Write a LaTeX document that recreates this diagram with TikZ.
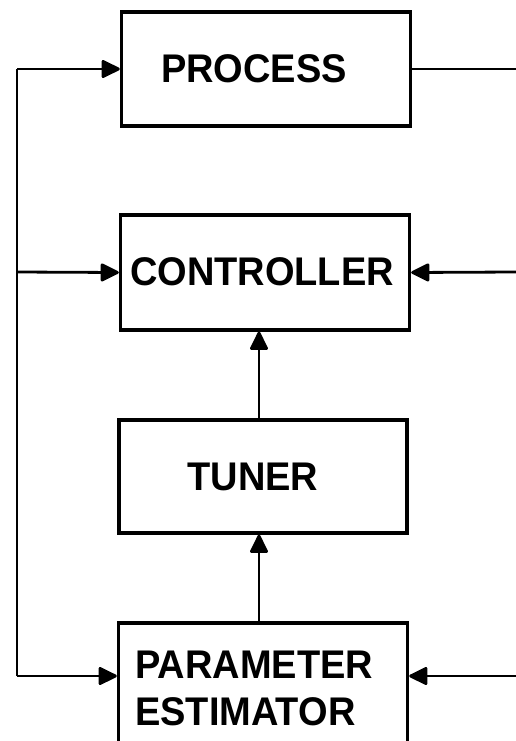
\documentclass[tikz,border=0pt]{standalone}
\usepackage{fontspec}
\setmainfont{Liberation Sans}[FakeStretch=0.95]
\usetikzlibrary{arrows.meta}
\tikzset{
  blk/.style={draw, line width=3.4pt, inner sep=0pt},
  lbl/.style={font=\bfseries\fontsize{40}{47}\selectfont, inner sep=0pt, align=left},
  con/.style={line width=2.8pt},
  arr/.style={con, -{Triangle[length=20pt,width=19pt,round]}}
}
\begin{document}
\begin{tikzpicture}[x=1pt,y=-1pt]
\useasboundingbox (0,0) rectangle (516,741);
\clip (0,0) rectangle (516,741);
% boxes
\node[blk, minimum width=289pt, minimum height=114pt] (process) at (266,69) {};
\node[blk, minimum width=289pt, minimum height=115pt] (controller) at (265,272.5) {};
\node[blk, minimum width=288pt, minimum height=113pt] (tuner) at (263,476.5) {};
\node[blk, minimum width=289pt, minimum height=160pt] (estimator) at (263,703) {};
% labels
\node[lbl] (tprocess) at (254,69) {PROCESS};
\node[lbl] (tcontroller) at (262,272) {CONTROLLER};
\node[lbl] (ttuner) at (253,477) {TUNER};
\node[lbl, anchor=west] (testimator) at (135,688) {PARAMETER\\ESTIMATOR};
% coordinates
\coordinate (lt) at (17,69);
\coordinate (lm) at (17,272);
\coordinate (lb) at (17,676);
\coordinate (rt) at (516,69);
\coordinate (rm) at (516,272);
\coordinate (rb) at (516,676);
% connectors
\draw[con] (lb) -- (lt);
\draw[arr] (lt) -- (process.west);
\draw[arr] (lm) -- (controller.west);
\draw[arr] (lb) -- (lb -| estimator.west);
\draw[con] (process.east) -- (rt);
\draw[arr] (rm) -- (controller.east);
\draw[arr] (rb) -- (rb -| estimator.east);
\draw[arr] (259,0 |- tuner.north) -- (259,0 |- controller.south);
\draw[arr] (259,0 |- estimator.north) -- (259,0 |- tuner.south);
\end{tikzpicture}
\end{document}
